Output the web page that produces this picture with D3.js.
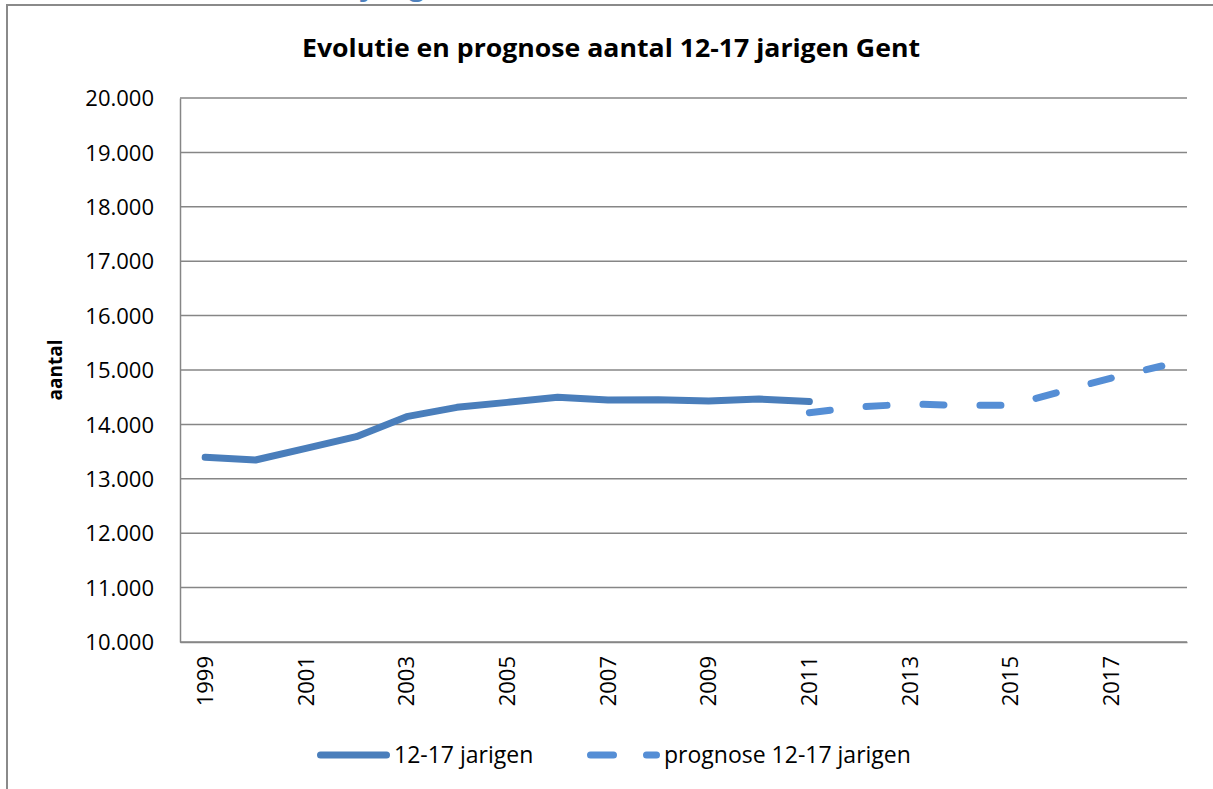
<!DOCTYPE html>
<html>
<head>
	<meta charset="utf-8">
	<title>Evolutie en prognose aantal 12-17 jarigen Gent</title>
	<style>
		html, body { margin: 0; background: white; }
		svg { display: block; }
		text { font-family: "Open Sans", sans-serif; fill: #000; }
	</style>
	<script src="https://cdn.jsdelivr.net/npm/d3@7"></script>
</head>
<body>
	<svg id="svg" width="1213" height="789"></svg>
	<script>
		// data
		const years = d3.range(1999, 2019);
		const tickYears = [1999, 2001, 2003, 2005, 2007, 2009, 2011, 2013, 2015, 2017];
		const actualYears = [1999, 2000, 2001, 2002, 2003, 2004, 2005, 2006, 2007, 2008, 2009, 2010, 2011];
		const actualValues = [13395, 13346, 13560, 13775, 14142, 14314, 14405, 14498, 14450, 14452, 14430, 14465, 14420];
		const prognoseYears = [2011, 2012, 2013, 2014, 2015, 2016, 2017, 2018];
		const prognoseValues = [14215, 14320, 14375, 14350, 14350, 14605, 14853, 15074];
		const yTicks = d3.range(10000, 20001, 1000);

		const SOLID_COLOR = '#4a7ebb';
		const DASH_COLOR = '#558ed5';
		const GRID_COLOR = '#868686';
		const LINE_W = 7;

		const svg = d3.select('#svg');
		const plotLeft = 180, plotRight = 1187, plotTop = 98, plotBottom = 642;

		const x = d3.scaleBand().domain(years).range([plotLeft, plotRight]);
		const y = d3.scaleLinear().domain([10000, 20000]).range([plotBottom, plotTop]);
		const nl = d3.formatLocale({ decimal: ',', thousands: '.', grouping: [3], currency: ['€', ''] });
		const fmt = nl.format(',d');
		const cx = yr => x(yr) + x.bandwidth() / 2;

		// frame of the chart object
		svg.append('path')
			.attr('d', 'M7,800 V5 H1220')
			.attr('fill', 'none')
			.attr('stroke', '#8a8a8a')
			.attr('stroke-width', 2);

		// cut off heading above the chart (only the descenders show)
		svg.append('text')
			.attr('x', 362)
			.attr('y', -5)
			.style('font-size', '28px')
			.style('font-weight', 'bold')
			.style('fill', '#4f81bd')
			.text('jarig');

		// title
		svg.append('text')
			.attr('x', 611)
			.attr('y', 57)
			.attr('text-anchor', 'middle')
			.style('font-size', '25px')
			.style('font-weight', 'bold')
			.attr('textLength', 618)
			.attr('lengthAdjust', 'spacingAndGlyphs')
			.text('Evolutie en prognose aantal 12-17 jarigen Gent');

		// gridlines
		svg.append('g')
			.selectAll('line')
			.data(yTicks)
			.join('line')
			.attr('x1', plotLeft)
			.attr('x2', plotRight)
			.attr('y1', d => y(d))
			.attr('y2', d => y(d))
			.attr('stroke', GRID_COLOR)
			.attr('stroke-width', 1.5);

		// y axis
		const yAxis = svg.append('g')
			.attr('transform', `translate(${plotLeft},0)`)
			.call(d3.axisLeft(y).tickValues(yTicks).tickFormat(fmt).tickSize(0).tickPadding(26));
		yAxis.select('.domain').attr('stroke', GRID_COLOR).attr('stroke-width', 1.5);
		yAxis.selectAll('text')
			.style('font-family', '"Open Sans", sans-serif')
			.style('font-size', '22px')
			.attr('dy', '0.35em');

		// x axis
		const xAxis = svg.append('g')
			.attr('transform', `translate(0,${plotBottom})`)
			.call(d3.axisBottom(x).tickValues(tickYears).tickSize(0));
		xAxis.select('.domain').attr('stroke', GRID_COLOR).attr('stroke-width', 1.5);
		xAxis.selectAll('text')
			.style('font-family', '"Open Sans", sans-serif')
			.style('font-size', '22px')
			.attr('text-anchor', 'end')
			.attr('transform', 'rotate(-90)')
			.attr('x', -14)
			.attr('y', 0)
			.attr('dy', '0.35em');

		// y axis title
		svg.append('text')
			.attr('transform', 'translate(62,370) rotate(-90)')
			.attr('text-anchor', 'middle')
			.style('font-size', '19px')
			.style('font-weight', 'bold')
			.text('aantal');

		const line = d3.line().x(d => cx(d[0])).y(d => y(d[1]));

		svg.append('path')
			.datum(d3.zip(actualYears, actualValues))
			.attr('d', line)
			.attr('fill', 'none')
			.attr('stroke', SOLID_COLOR)
			.attr('stroke-width', LINE_W)
			.attr('stroke-linejoin', 'round')
			.attr('stroke-linecap', 'round');

		svg.append('path')
			.datum(d3.zip(prognoseYears, prognoseValues))
			.attr('d', line)
			.attr('fill', 'none')
			.attr('stroke', DASH_COLOR)
			.attr('stroke-width', LINE_W)
			.attr('stroke-dasharray', '21,36')
			.attr('stroke-linejoin', 'round')
			.attr('stroke-linecap', 'round');

		// legend
		const legend = svg.append('g');
		legend.append('line')
			.attr('x1', 320.5).attr('x2', 386.5)
			.attr('y1', 755).attr('y2', 755)
			.attr('stroke', SOLID_COLOR)
			.attr('stroke-width', LINE_W)
			.attr('stroke-linecap', 'round');
		legend.append('text')
			.attr('x', 394)
			.attr('y', 763)
			.style('font-size', '23px')
			.text('12-17 jarigen');
		legend.append('line')
			.attr('x1', 590.5).attr('x2', 656.5)
			.attr('y1', 755).attr('y2', 755)
			.attr('stroke', DASH_COLOR)
			.attr('stroke-width', LINE_W)
			.attr('stroke-dasharray', '23,33')
			.attr('stroke-linecap', 'round');
		legend.append('text')
			.attr('x', 664)
			.attr('y', 763)
			.style('font-size', '23px')
			.text('prognose 12-17 jarigen');
	</script>
</body>
</html>
